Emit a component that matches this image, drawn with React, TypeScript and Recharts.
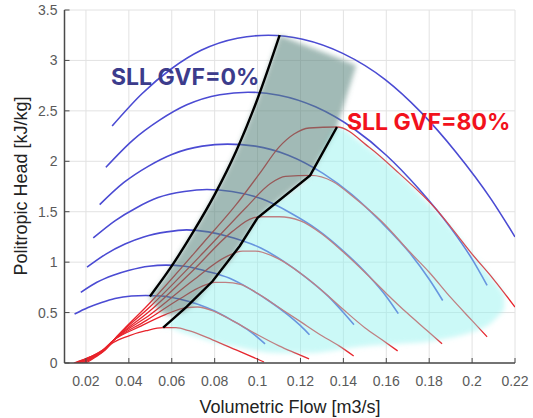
import React from 'react'
import { ComposedChart, Line, Area, XAxis, YAxis, CartesianGrid } from 'recharts'

type Pt = [number, number]

// speed lines at GVF = 0% (blue), slowest to fastest
const gvf0Speed50: Pt[] = [[0.0147, 0.485], [0.021, 0.55], [0.0273, 0.6], [0.0335, 0.64], [0.0412, 0.665], [0.0478, 0.67], [0.055, 0.665], [0.0635, 0.635], [0.0725, 0.58], [0.08, 0.515], [0.0875, 0.43], [0.095, 0.335], [0.1, 0.255], [0.1035, 0.19]]
const gvf0Speed60: Pt[] = [[0.0176, 0.7], [0.0251, 0.8], [0.0327, 0.87], [0.0402, 0.92], [0.0494, 0.96], [0.0573, 0.97], [0.066, 0.96], [0.0762, 0.91], [0.087, 0.84], [0.096, 0.74], [0.105, 0.62], [0.114, 0.48], [0.12, 0.37], [0.1242, 0.28]]
const gvf0Speed70: Pt[] = [[0.0205, 0.95], [0.0293, 1.08], [0.0382, 1.18], [0.0469, 1.25], [0.0577, 1.3], [0.0669, 1.32], [0.077, 1.3], [0.0889, 1.24], [0.1015, 1.14], [0.112, 1.01], [0.1225, 0.85], [0.133, 0.66], [0.14, 0.5], [0.1449, 0.38]]
const gvf0Speed80: Pt[] = [[0.0234, 1.24], [0.0335, 1.41], [0.0436, 1.54], [0.0536, 1.64], [0.0659, 1.7], [0.0764, 1.72], [0.088, 1.7], [0.1016, 1.63], [0.116, 1.48], [0.128, 1.32], [0.14, 1.11], [0.152, 0.86], [0.16, 0.66], [0.1656, 0.49]]
const gvf0Speed90: Pt[] = [[0.0264, 1.57], [0.0377, 1.79], [0.049, 1.95], [0.0603, 2.07], [0.0742, 2.15], [0.086, 2.17], [0.099, 2.15], [0.1143, 2.06], [0.1305, 1.88], [0.144, 1.67], [0.1575, 1.4], [0.171, 1.09], [0.18, 0.83], [0.1863, 0.62]]
const gvf0Speed100: Pt[] = [[0.0293, 1.94], [0.0419, 2.21], [0.0545, 2.41], [0.067, 2.56], [0.0824, 2.66], [0.0955, 2.685], [0.11, 2.655], [0.127, 2.54], [0.145, 2.32], [0.16, 2.06], [0.175, 1.73], [0.19, 1.34], [0.2, 1.03], [0.207, 0.77]]
const gvf0Speed110: Pt[] = [[0.0322, 2.35], [0.0461, 2.67], [0.06, 2.92], [0.0737, 3.1], [0.0906, 3.22], [0.105, 3.25], [0.121, 3.21], [0.1397, 3.07], [0.1595, 2.81], [0.176, 2.49], [0.1925, 2.09], [0.209, 1.62], [0.22, 1.25]]

// speed lines at GVF = 80% (red)
const gvf80Speed50: Pt[] = [[0.0144, 0], [0.022, 0.06], [0.028, 0.12], [0.0326, 0.2], [0.04, 0.27], [0.048, 0.32], [0.056, 0.35], [0.062, 0.35], [0.068, 0.32], [0.079, 0.23], [0.09, 0.13], [0.103, 0.01]]
const gvf80Speed60: Pt[] = [[0.015, 0], [0.022, 0.06], [0.028, 0.13], [0.0326, 0.22], [0.045, 0.36], [0.057, 0.48], [0.067, 0.55], [0.072, 0.555], [0.08, 0.51], [0.09, 0.4], [0.1, 0.28], [0.11, 0.17], [0.118, 0.095], [0.124, 0.04]]
const gvf80Speed70: Pt[] = [[0.016, 0], [0.0225, 0.06], [0.028, 0.13], [0.0326, 0.22], [0.048, 0.42], [0.064, 0.64], [0.074, 0.76], [0.08, 0.8], [0.085, 0.8], [0.092, 0.78], [0.1, 0.69], [0.11, 0.55], [0.12, 0.41], [0.13, 0.27], [0.138, 0.17], [0.1448, 0.07]]
const gvf80Speed80: Pt[] = [[0.017, 0], [0.023, 0.06], [0.0285, 0.13], [0.0326, 0.22], [0.05, 0.48], [0.07, 0.82], [0.085, 1.05], [0.093, 1.11], [0.099, 1.11], [0.11, 1.03], [0.12, 0.89], [0.13, 0.72], [0.14, 0.53], [0.15, 0.35], [0.158, 0.23], [0.1653, 0.12]]
const gvf80Speed90: Pt[] = [[0.018, 0], [0.0235, 0.06], [0.0285, 0.13], [0.0326, 0.22], [0.05, 0.52], [0.07, 0.92], [0.088, 1.3], [0.098, 1.44], [0.102, 1.45], [0.11, 1.45], [0.12, 1.41], [0.13, 1.28], [0.14, 1.1], [0.15, 0.9], [0.16, 0.69], [0.17, 0.49], [0.178, 0.34], [0.186, 0.19]]
const gvf80Speed100: Pt[] = [[0.019, 0], [0.024, 0.06], [0.029, 0.13], [0.0326, 0.22], [0.05, 0.56], [0.075, 1.1], [0.095, 1.55], [0.106, 1.78], [0.113, 1.85], [0.125, 1.86], [0.135, 1.8], [0.145, 1.64], [0.158, 1.4], [0.171, 1.1], [0.18, 0.9], [0.19, 0.65], [0.2, 0.42], [0.207, 0.26]]
const gvf80Speed110: Pt[] = [[0.02, 0], [0.0245, 0.06], [0.029, 0.13], [0.0326, 0.22], [0.05, 0.6], [0.075, 1.2], [0.09, 1.57], [0.101, 1.88], [0.11, 2.14], [0.117, 2.27], [0.124, 2.33], [0.137, 2.34], [0.152, 2.14], [0.166, 1.88], [0.1834, 1.52], [0.19, 1.35], [0.2, 1.08], [0.21, 0.83], [0.22, 0.555]]

// stable-limit lines (black)
const sllGvf0: Pt[] = [[0.0498, 0.66], [0.0593, 0.94], [0.07, 1.3], [0.08, 1.67], [0.09, 2.1], [0.1, 2.62], [0.1103, 3.25]]
const sllGvf80: Pt[] = [[0.056, 0.35], [0.067, 0.56], [0.079, 0.81], [0.0917, 1.16], [0.1, 1.44], [0.1245, 1.86], [0.137, 2.34]]

// shaded zones: [flow, lower head, upper head]
const greyZone: [number, number, number][] = [[0.0498, 0.64, 0.66], [0.055, 0.5, 0.8], [0.0593, 0.47, 0.94], [0.065, 0.5, 1.13], [0.07, 0.58, 1.3], [0.079, 0.81, 1.63], [0.08, 0.84, 1.67], [0.0885, 1.05, 2.03], [0.0917, 1.16, 2.18], [0.1, 1.44, 2.62], [0.101, 1.46, 2.68], [0.1103, 1.62, 3.25], [0.1245, 1.86, 3.13], [0.137, 2.34, 3.03], [0.146, 2.95, 2.95]]
const cyanZone: [number, number, number][] = [[0.056, 0.34, 0.35], [0.058, 0.36, 0.39], [0.064, 0.31, 0.5], [0.07, 0.27, 0.62], [0.081, 0.2, 0.86], [0.09, 0.16, 1.11], [0.1, 0.12, 1.44], [0.11, 0.1, 1.61], [0.1245, 0.1, 1.86], [0.137, 0.13, 2.34], [0.1475, 0.16, 2.2], [0.166, 0.19, 1.88], [0.179, 0.21, 1.6], [0.19, 0.25, 1.35], [0.199, 0.3, 1.1], [0.209, 0.4, 0.85], [0.215, 0.53, 0.68]]

const flowTicks = [0.02, 0.04, 0.06, 0.08, 0.1, 0.12, 0.14, 0.16, 0.18, 0.2, 0.22]
const headTicks = [0, 0.5, 1, 1.5, 2, 2.5, 3, 3.5]

const blueLines = [gvf0Speed50, gvf0Speed60, gvf0Speed70, gvf0Speed80, gvf0Speed90, gvf0Speed100, gvf0Speed110]
const redLines = [gvf80Speed50, gvf80Speed60, gvf80Speed70, gvf80Speed80, gvf80Speed90, gvf80Speed100, gvf80Speed110]

const toXY = (pts: Pt[]) => pts.map(([x, y]) => ({ x, y }))
const toBand = (pts: [number, number, number][]) => pts.map(([x, lo, hi]) => ({ x, lo, hi }))

const TICK_FONT = '"Liberation Sans", Arial, sans-serif'

const FlowTick = ({ x, y, payload }: any) => (
  <g>
    <line x1={x} x2={x} y1={y} y2={y - 5} stroke="#4a4a4a" />
    <text x={x} y={y + 23} textAnchor="middle" fill="#5a5a5a" fontSize={14} fontFamily={TICK_FONT}>
      {payload.value}
    </text>
  </g>
)

const HeadTick = ({ x, y, payload }: any) => (
  <g>
    <line x1={x} x2={x + 5} y1={y} y2={y} stroke="#4a4a4a" />
    <text x={x - 7} y={y + 5} textAnchor="end" fill="#5a5a5a" fontSize={14} fontFamily={TICK_FONT}>
      {payload.value}
    </text>
  </g>
)

export default function App() {
  return (
    <div style={{ position: 'absolute', left: 0, top: 0, width: 533, height: 418, background: '#fff' }}>
      <ComposedChart width={533} height={418} margin={{ top: 10, right: 18, bottom: 0, left: 0 }}>
        <CartesianGrid stroke="#e2e2e2" />
        <XAxis
          dataKey="x"
          type="number"
          domain={[0.01, 0.22]}
          ticks={flowTicks}
          interval={0}
          allowDataOverflow
          height={55}
          tickSize={0}
          tickMargin={0}
          tickLine={false}
          tick={<FlowTick />}
          axisLine={{ stroke: '#4a4a4a', strokeWidth: 1.5 }}
        />
        <YAxis
          type="number"
          domain={[0, 3.5]}
          ticks={headTicks}
          interval={0}
          allowDataOverflow
          width={64.5}
          tickSize={0}
          tickMargin={0}
          tickLine={false}
          tick={<HeadTick />}
          axisLine={{ stroke: '#4a4a4a', strokeWidth: 1.5 }}
        />
        {blueLines.map((pts, i) => (
          <Line key={'b' + i} data={toXY(pts)} dataKey="y" type="monotone" stroke="#4b4bd3" strokeWidth={1.6} dot={false} activeDot={false} isAnimationActive={false} />
        ))}
        {redLines.map((pts, i) => (
          <Line key={'r' + i} data={toXY(pts)} dataKey="y" type="monotone" stroke="#e8232b" strokeWidth={1.3} dot={false} activeDot={false} isAnimationActive={false} />
        ))}
        <Area data={toBand(cyanZone)} dataKey={(d: any) => [d.lo, d.hi]} type="monotone" stroke="none" fill="rgb(140,242,238)" fillOpacity={0.45} filter="url(#soft-edge)" zIndex={500} activeDot={false} isAnimationActive={false} />
        <Area data={toBand(greyZone)} dataKey={(d: any) => [d.lo, d.hi]} type="linear" stroke="none" fill="rgb(90,132,124)" fillOpacity={0.56} filter="url(#soft-edge)" zIndex={510} activeDot={false} isAnimationActive={false} />
        <Line data={toXY(sllGvf0)} dataKey="y" type="monotone" stroke="#000" strokeWidth={2.4} dot={false} activeDot={false} zIndex={600} isAnimationActive={false} />
        <Line data={toXY(sllGvf80)} dataKey="y" type="linear" stroke="#000" strokeWidth={2.4} dot={false} activeDot={false} zIndex={600} isAnimationActive={false} />
      </ComposedChart>
      <svg width={533} height={418} style={{ position: 'absolute', left: 0, top: 0, pointerEvents: 'none' }}>
        <defs>
          <filter id="soft-edge" x="-20%" y="-20%" width="140%" height="140%">
            <feGaussianBlur stdDeviation="2.5" />
          </filter>
        </defs>
        <text x={111} y={85} fontFamily="Inter, sans-serif" fontWeight={700} fontSize={23} fill="#3c3c8c">SLL GVF=0%</text>
        <text x={347} y={130} fontFamily="Inter, sans-serif" fontWeight={700} fontSize={23} fill="#f2121c">SLL GVF=80%</text>
        <text x={290} y={413} textAnchor="middle" fontFamily={TICK_FONT} fontSize={18} fill="#222">Volumetric Flow [m3/s]</text>
        <text transform="translate(27,186) rotate(-90)" textAnchor="middle" fontFamily={TICK_FONT} fontSize={18} fill="#222">Politropic Head [kJ/kg]</text>
      </svg>
    </div>
  )
}
